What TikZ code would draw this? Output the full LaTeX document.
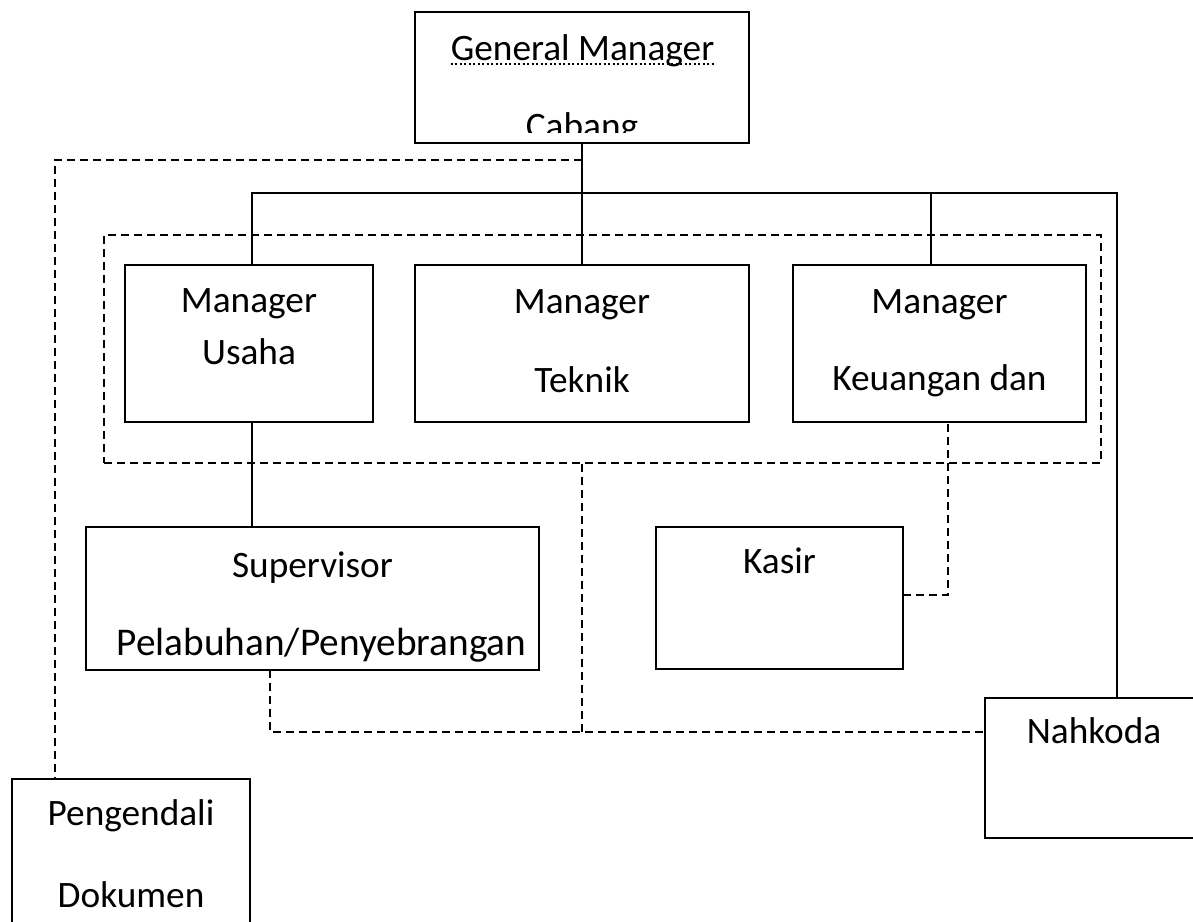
\documentclass[tikz,border=0pt]{standalone}
\usepackage{fontspec}
\setmainfont{Carlito}
\begin{document}
\begin{tikzpicture}[x=1pt,y=-1pt,
  box/.style={draw,line width=2.2pt,inner sep=0pt,outer sep=0pt,rectangle},
  txt/.style={inner sep=0pt,anchor=base,font=\fontsize{37.3}{44}\selectfont},
  bigtxt/.style={txt,font=\fontsize{39.3}{46}\selectfont},
  dsh/.style={line width=2.2pt,dash pattern=on 8pt off 5pt},
  solid line/.style={line width=2.2pt},
  squig/.style={line width=2pt,dash pattern=on 2pt off 2.5pt}]
\useasboundingbox (0,0) rectangle (1193,921);
\clip (0,0) rectangle (1193,921);
% boxes
\node[box,minimum width=334pt,minimum height=131pt] (gm) at (582,77.5) {};
\node[box,minimum width=248pt,minimum height=157pt] (usaha) at (249,343.5) {};
\node[box,minimum width=334pt,minimum height=157pt] (teknik) at (582,343.5) {};
\node[box,minimum width=293pt,minimum height=157pt] (keu) at (939.5,343.5) {};
\node[box,minimum width=453pt,minimum height=143pt] (sup) at (312.5,598.5) {};
\node[box,minimum width=247pt,minimum height=142pt] (kasir) at (779.5,598) {};
\node[box,minimum width=218pt,minimum height=140pt] (nah) at (1094,768) {};
\node[box,minimum width=238pt,minimum height=170pt] (peng) at (131,864) {};
\node[draw,dsh,inner sep=0pt,minimum width=997pt,minimum height=228pt] (grp) at (602.5,349) {};
% texts
\node[txt] (gmt) at (582.5,60) {General Manager};
\draw[squig] ([yshift=-4pt]gmt.base west) -- ([yshift=-4pt]gmt.base east);
\begin{scope}
\clip (415,12) rectangle (748,132);
\node[txt] (gmc) at (582,138) {Cabang};
\end{scope}
\node[txt] (u1) at (249,312) {Manager};
\node[txt] (u2) at (249,364) {Usaha};
\node[txt] (t1) at (582,313) {Manager};
\node[txt] (t2) at (582,392) {Teknik};
\node[txt] (k1) at (939.5,313) {Manager};
\node[txt] (k2) at (939.5,390) {Keuangan dan};
\node[txt] (s1) at (312.5,577) {Supervisor};
\node[bigtxt] (s2) at (321.5,655) {Pelabuhan/Penyebrangan};
\node[txt] (ka) at (779.5,573) {Kasir};
\node[txt] (n1) at (1094,743) {Nahkoda};
\node[txt] (p1) at (131,825) {Pengendali};
\node[txt] (p2) at (131,907) {Dokumen};
% connector coordinates
\coordinate (bl) at (252,193);
\coordinate (br) at (1117,193);
\coordinate (bk) at (931,193);
\coordinate (dt) at (582,160);
\coordinate (dl) at (55,160);
\coordinate (dm) at (582,732);
\coordinate (ds) at (270,732);
\coordinate (dk) at (948,595);
% solid connectors
\draw[solid line] (gm.south) -- (teknik.north);
\draw[solid line] (usaha.north -| bl) -- (bl) -- (br) -- (br |- nah.north);
\draw[solid line] (bk) -- (bk |- keu.north);
\draw[solid line] (usaha.south -| bl) -- (sup.north -| bl);
% dashed connectors
\draw[dsh] (dt) -- (dl) -- (dl |- peng.north);
\draw[dsh] (grp.south -| dm) -- (dm);
\draw[dsh] (sup.south -| ds) -- (ds) -- (ds -| nah.west);
\draw[dsh] (kasir.east |- dk) -- (dk) -- (dk |- keu.south);
\end{tikzpicture}
\end{document}
